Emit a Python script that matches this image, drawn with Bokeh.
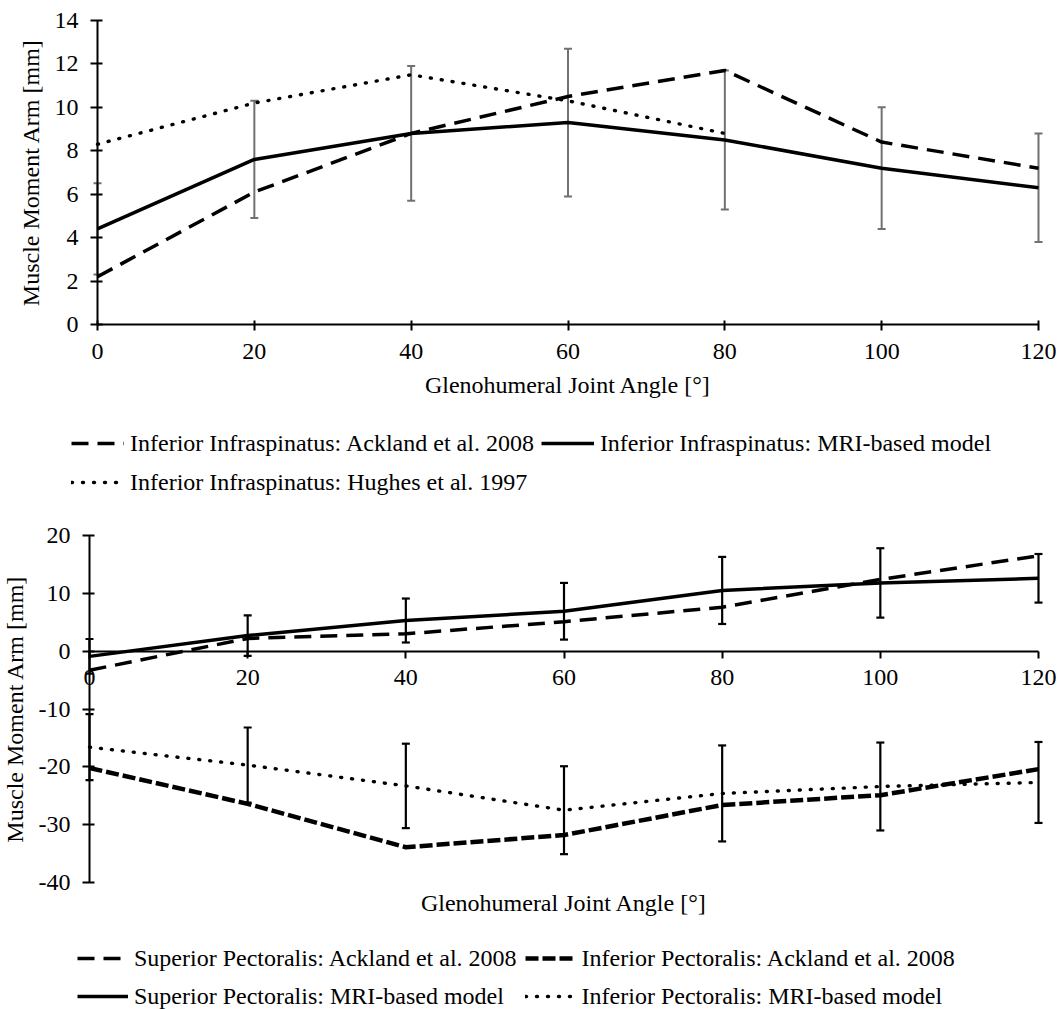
from bokeh.plotting import figure
from bokeh.models import (FixedTicker, Whisker, ColumnDataSource, Legend, LegendItem,
                          Label, TeeHead, Range1d, CustomJSTickFormatter)
from bokeh.layouts import column
from bokeh.embed import file_html
from bokeh.resources import INLINE

# ---------------- data ----------------
angles = [0, 20, 40, 60, 80, 100, 120]
hughes_angles = [0, 20, 40, 60, 80]

infra_ackland = [2.2, 6.1, 8.8, 10.5, 11.7, 8.4, 7.2]
infra_mri = [4.4, 7.6, 8.8, 9.3, 8.5, 7.2, 6.3]
infra_mri_sd = [2.1, 2.7, 3.1, 3.4, 3.2, 2.8, 2.5]
infra_hughes = [8.3, 10.2, 11.5, 10.3, 8.8]

sup_pec_ackland = [-3.3, 2.2, 3.0, 5.1, 7.6, 12.4, 16.5]
sup_pec_mri = [-0.9, 2.7, 5.3, 6.9, 10.5, 11.8, 12.6]
sup_pec_mri_sd = [3.0, 3.5, 3.8, 4.9, 5.8, 6.0, 4.2]
inf_pec_ackland = [-20.2, -26.4, -33.9, -31.8, -26.6, -24.9, -20.4]
inf_pec_mri = [-16.6, -19.7, -23.3, -27.5, -24.6, -23.4, -22.7]
inf_pec_mri_sd = [5.7, 6.5, 7.3, 7.6, 8.3, 7.6, 7.0]

x_ticks = [0, 20, 40, 60, 80, 100, 120]
top_y_ticks = [0, 2, 4, 6, 8, 10, 12, 14]
bottom_y_ticks = [-40, -30, -20, -10, 0, 10, 20]

x_title = "Glenohumeral Joint Angle [°]"
y_title = "Muscle Moment Arm [mm]"

FONT = "Liberation Serif"
TICK_FS = "24px"
TITLE_FS = "24px"
LEG_FS = "24px"

W = 1062
H1 = 505
H2 = 1009 - H1


def style_axis(ax, tick_in, tick_out, standoff):
    ax.axis_line_color = "black"
    ax.axis_line_width = 2
    ax.major_tick_line_color = "black"
    ax.major_tick_line_width = 2
    ax.major_tick_in = tick_in
    ax.major_tick_out = tick_out
    ax.minor_tick_line_color = None
    ax.major_label_text_font = FONT
    ax.major_label_text_font_size = TICK_FS
    ax.major_label_text_color = "black"
    ax.major_label_standoff = standoff
    ax.axis_label_text_font = FONT
    ax.axis_label_text_font_size = TITLE_FS
    ax.axis_label_text_font_style = "normal"
    ax.axis_label_text_color = "black"
    ax.formatter = CustomJSTickFormatter(code="return tick.toString();")


def whiskers(p, xs, mean, sd, color, width):
    src = ColumnDataSource(dict(
        x=xs,
        lower=[m - s for m, s in zip(mean, sd)],
        upper=[m + s for m, s in zip(mean, sd)],
    ))
    w = Whisker(base="x", lower="lower", upper="upper", source=src,
                line_color=color, line_width=width,
                upper_head=TeeHead(size=8, line_color=color, line_width=width),
                lower_head=TeeHead(size=8, line_color=color, line_width=width))
    p.add_layout(w)


def base_figure(height, xr, yr):
    p = figure(width=W, height=height, output_backend="svg", toolbar_location=None,
               x_range=Range1d(*xr), y_range=Range1d(*yr),
               min_border=0, min_border_left=0, min_border_right=0,
               min_border_top=0, min_border_bottom=0)
    p.outline_line_color = None
    p.xgrid.grid_line_color = None
    p.ygrid.grid_line_color = None
    p.background_fill_color = "white"
    p.border_fill_color = "white"
    return p


# ---------------- top chart ----------------
# frame covers the whole canvas; axes are pinned at x=0 / y=0
px1 = (1038 - 97) / 120.0
py1 = (324 - 20) / 14.0
p1 = base_figure(H1,
                 (-97 / px1, 120 + (W - 1038) / px1),
                 (-(H1 - 324) / py1, 14 + 20 / py1))

xa1, ya1 = p1.xaxis[0], p1.yaxis[0]
style_axis(xa1, tick_in=4, tick_out=6, standoff=13)
style_axis(ya1, tick_in=5, tick_out=7, standoff=12)
xa1.ticker = FixedTicker(ticks=x_ticks)
ya1.ticker = FixedTicker(ticks=top_y_ticks)
xa1.fixed_location = 0
ya1.fixed_location = 0
xa1.bounds = (x_ticks[0], x_ticks[-1])
ya1.bounds = (top_y_ticks[0], top_y_ticks[-1])
xa1.axis_label = x_title
ya1.axis_label = y_title
xa1.axis_label_standoff = 10
ya1.axis_label_standoff = 8

r_ack = p1.line(angles, infra_ackland, line_color="black", line_width=3.5,
                line_dash="17 9")
r_mri = p1.line(angles, infra_mri, line_color="black", line_width=3.5)
r_hug = p1.line(hughes_angles, infra_hughes, line_color="black", line_width=3.4,
                line_dash="1 10", line_cap="round")
whiskers(p1, angles, infra_mri, infra_mri_sd, "#717171", 2)

leg1 = Legend(items=[
    LegendItem(label="Inferior Infraspinatus: Ackland et al. 2008", renderers=[r_ack]),
    LegendItem(label="Inferior Infraspinatus: MRI-based model", renderers=[r_mri]),
    LegendItem(label="Inferior Infraspinatus: Hughes et al. 1997", renderers=[r_hug]),
], ncols=2, orientation="horizontal", location=(71, 7),
    glyph_width=53, glyph_height=32, label_height=32, label_standoff=6, spacing=7,
    label_text_font=FONT, label_text_font_size=LEG_FS, label_text_color="black",
    border_line_color=None, background_fill_alpha=0, padding=0, margin=0)
p1.add_layout(leg1)

# ---------------- bottom chart ----------------
px2 = (1038 - 89) / 120.0
py2 = (882 - 535) / 60.0
top2 = 535 - H1
p2 = base_figure(H2,
                 (-89 / px2, 120 + (W - 1038) / px2),
                 (-40 - (H2 - (882 - H1)) / py2, 20 + top2 / py2))

xa2, ya2 = p2.xaxis[0], p2.yaxis[0]
style_axis(xa2, tick_in=0, tick_out=7, standoff=12)
style_axis(ya2, tick_in=5, tick_out=7, standoff=12)
xa2.ticker = FixedTicker(ticks=x_ticks)
ya2.ticker = FixedTicker(ticks=bottom_y_ticks)
xa2.fixed_location = 0
ya2.fixed_location = 0
xa2.bounds = (x_ticks[0], x_ticks[-1])
ya2.bounds = (bottom_y_ticks[0], bottom_y_ticks[-1])
ya2.axis_label = y_title
ya2.axis_label_standoff = 8

p2.add_layout(Label(x=(x_ticks[0] + x_ticks[-1]) / 2, y=bottom_y_ticks[0],
                    y_offset=-20, text=x_title, text_align="center",
                    text_baseline="middle", text_font=FONT,
                    text_font_size=TITLE_FS, text_color="black"))

r_sa = p2.line(angles, sup_pec_ackland, line_color="black", line_width=3.5,
               line_dash="17 9")
r_ia = p2.line(angles, inf_pec_ackland, line_color="black", line_width=4.5,
               line_dash="13 4")
r_sm = p2.line(angles, sup_pec_mri, line_color="black", line_width=3.5)
r_im = p2.line(angles, inf_pec_mri, line_color="black", line_width=3.4,
               line_dash="1 10", line_cap="round")
whiskers(p2, angles, sup_pec_mri, sup_pec_mri_sd, "black", 2.2)
whiskers(p2, angles, inf_pec_mri, inf_pec_mri_sd, "black", 2.2)

leg2 = Legend(items=[
    LegendItem(label="Superior Pectoralis: Ackland et al. 2008", renderers=[r_sa]),
    LegendItem(label="Inferior Pectoralis: Ackland et al. 2008", renderers=[r_ia]),
    LegendItem(label="Superior Pectoralis: MRI-based model", renderers=[r_sm]),
    LegendItem(label="Inferior Pectoralis: MRI-based model", renderers=[r_im]),
], ncols=2, orientation="horizontal", location=(77, -2),
    glyph_width=51, glyph_height=30, label_height=30, label_standoff=6, spacing=8,
    label_text_font=FONT, label_text_font_size=LEG_FS, label_text_color="black",
    border_line_color=None, background_fill_alpha=0, padding=0, margin=0)
p2.add_layout(leg2)

layout = column(p1, p2, spacing=0)
open("out.html", "w").write(file_html(layout, INLINE))
